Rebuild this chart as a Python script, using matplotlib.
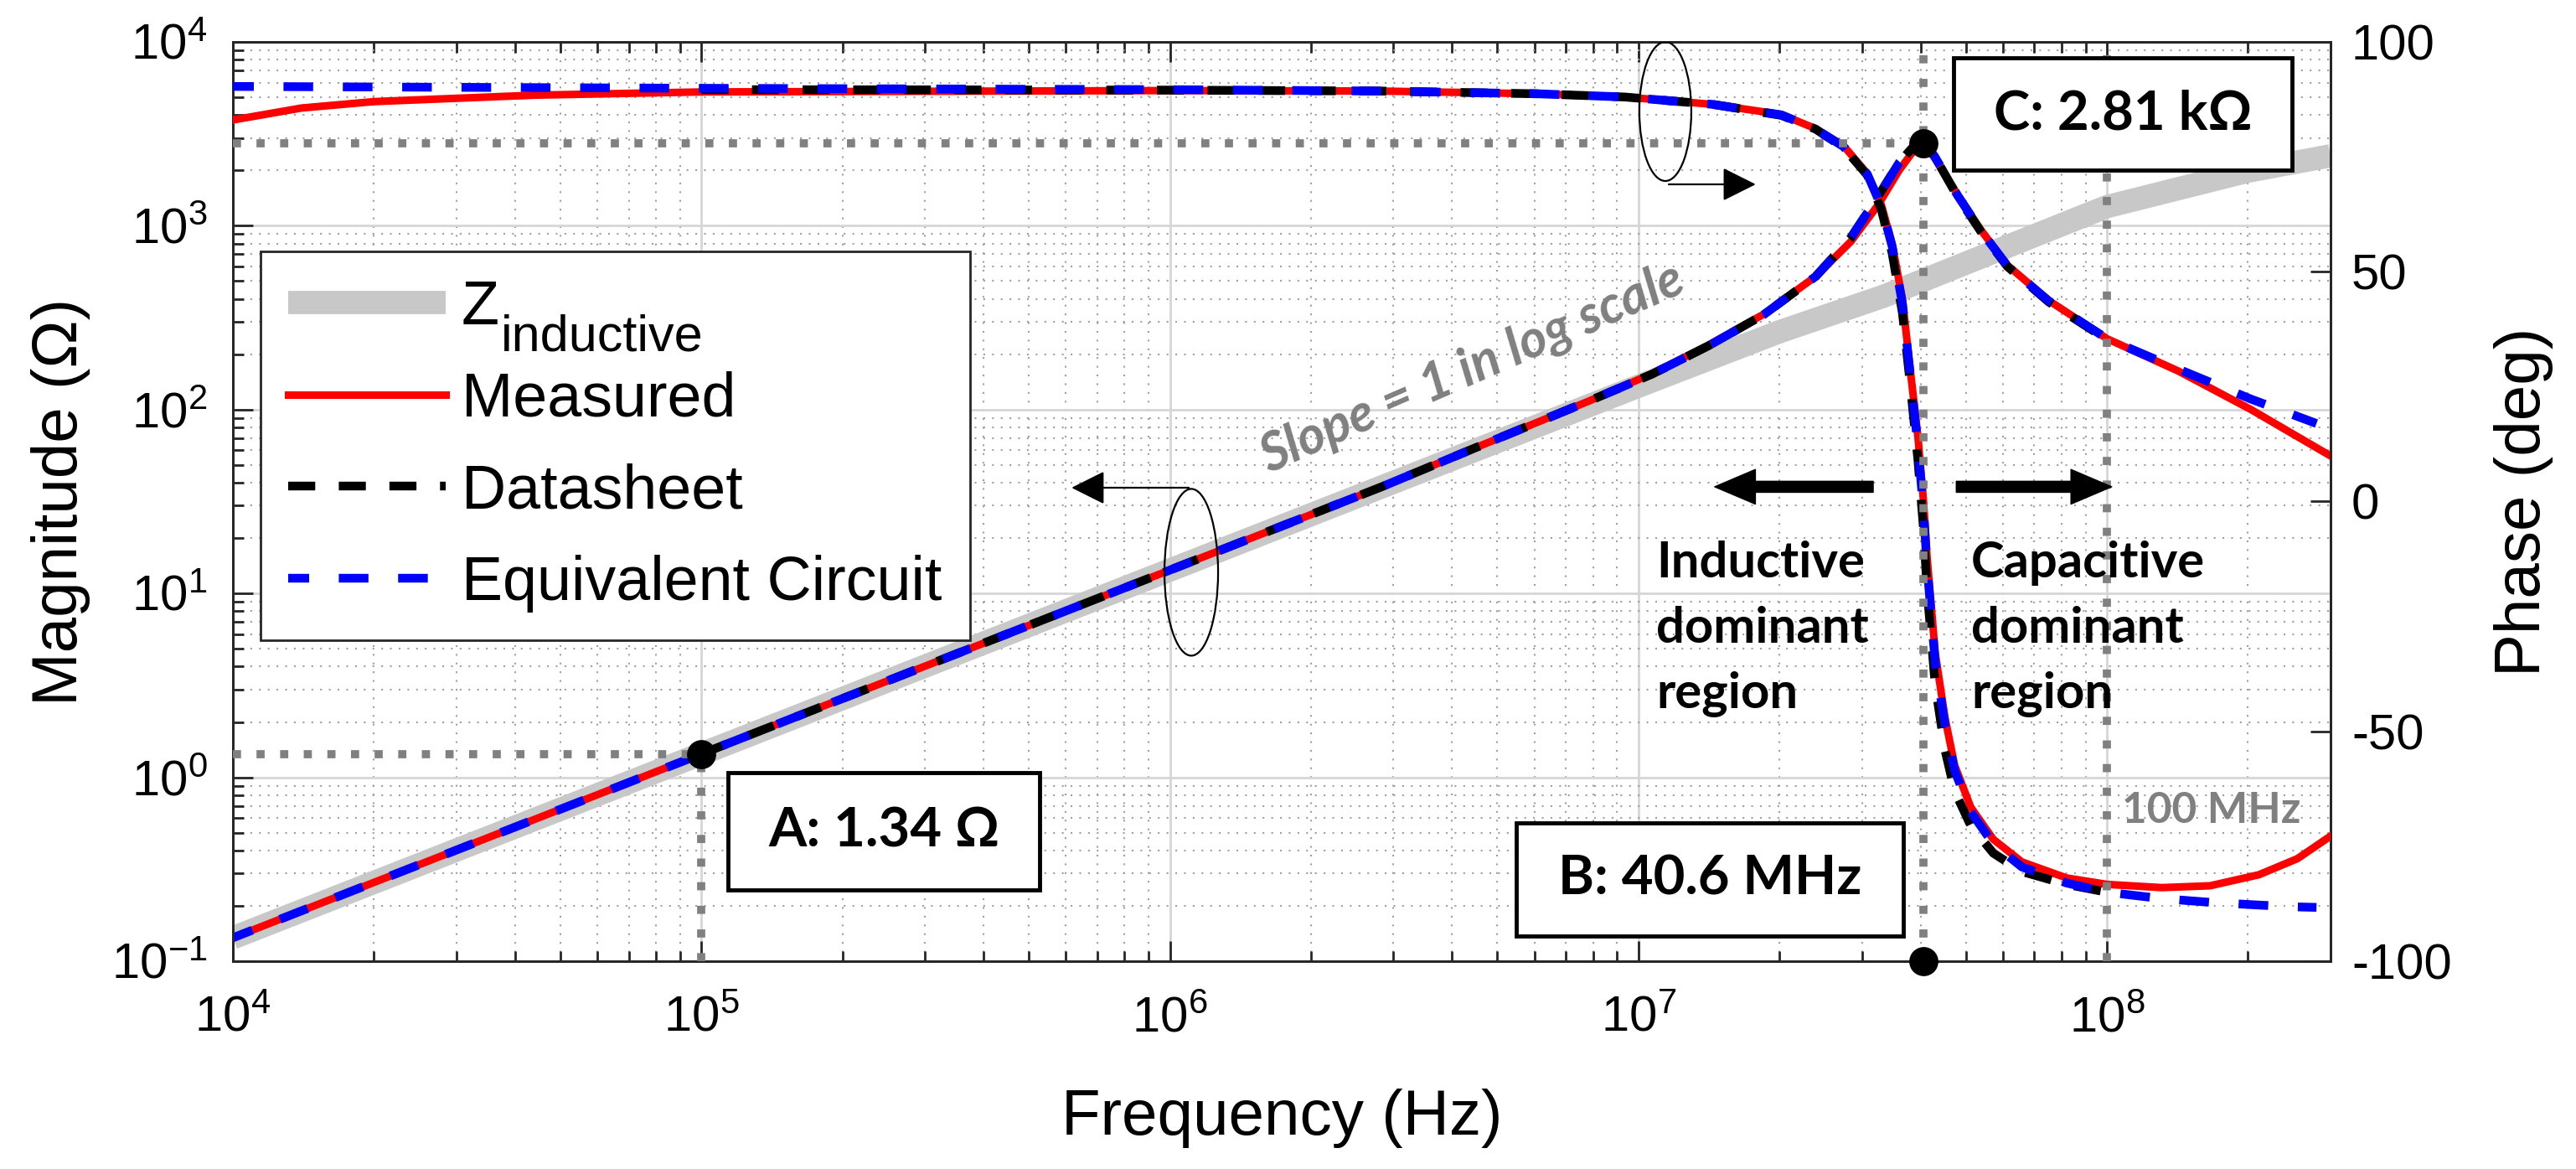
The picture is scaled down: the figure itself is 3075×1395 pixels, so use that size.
import numpy as np
import matplotlib
matplotlib.use('Agg')
import matplotlib.pyplot as plt
from matplotlib.patches import Ellipse, FancyArrowPatch, Rectangle
from matplotlib.ticker import LogLocator, NullFormatter, FixedLocator

plt.rcParams['font.family'] = ['Liberation Sans', 'DejaVu Sans']
plt.rcParams['mathtext.fontset'] = 'custom'
plt.rcParams['mathtext.rm'] = 'Liberation Sans'
plt.rcParams['mathtext.it'] = 'Liberation Sans'
plt.rcParams['axes.unicode_minus'] = False

# ---- data ----
# Z_inductive (grey)
f_zl = [1e4, 1e5, 1e6, 1e7, 2e7, 3.35e7, 6.2e7, 1e8, 2e8, 3e8]
z_zl = [0.134, 1.34, 13.4, 134, 265, 415, 780, 1270, 1980, 2400]

# measured magnitude (red)
f_meas = [1e4, 1e5, 1e6, 2.83e6, 4.49e6, 7.89e6, 1.07e7, 1.41e7, 1.85e7, 2.39e7,
          2.84e7, 3.25e7, 3.6e7, 3.84e7, 4.06e7, 4.28e7, 4.8e7, 5.38e7, 6.13e7,
          7.51e7, 1e8, 1.42e8, 2.03e8, 3e8]
z_meas = [0.134, 1.34, 13.4, 38, 62, 112, 157, 224, 330, 530,
          820, 1300, 2000, 2500, 2810, 2350, 1475, 949, 610,
          392, 243, 162, 100, 56]

# datasheet magnitude (black)
f_ds = [1e5, 1e6, 2.83e6, 4.49e6, 7.89e6, 1.07e7, 1.41e7, 1.85e7, 2.39e7,
        2.84e7, 3.25e7, 3.6e7, 3.84e7, 4.06e7, 4.28e7, 4.8e7, 5.38e7, 6.13e7,
        7.51e7, 1e8]
z_ds = [1.34, 13.4, 38, 62, 112, 156, 222, 328, 530,
        860, 1450, 2200, 2650, 2810, 2400, 1440, 930, 600,
        385, 240]

# equivalent circuit magnitude (blue)
f_eq = [1e4, 1e5, 1e6, 2.83e6, 4.49e6, 7.89e6, 1.07e7, 1.41e7, 1.85e7, 2.39e7,
        2.84e7, 3.25e7, 3.6e7, 3.84e7, 4.06e7, 4.28e7, 4.8e7, 5.38e7, 6.13e7,
        7.51e7, 1e8, 1.42e8, 2.03e8, 2.8e8]
z_eq = [0.134, 1.34, 13.4, 38, 62, 112, 156, 222, 328, 530,
        860, 1450, 2200, 2650, 2810, 2400, 1460, 940, 605,
        390, 243, 166, 114, 84]

# phase, measured (red)
fp_meas = [1e4, 1.4e4, 2e4, 4.4e4, 1e5, 1e6, 2.8e6, 6.1e6, 9.35e6, 1.44e7, 2.02e7,
           2.39e7, 2.74e7, 3.08e7, 3.3e7, 3.48e7, 3.66e7, 3.79e7, 3.95e7, 4.06e7,
           4.13e7, 4.3e7, 4.51e7, 4.73e7, 5.12e7, 5.72e7, 6.58e7, 8.2e7, 1e8,
           1.31e8, 1.66e8, 2.11e8, 2.55e8, 3e8]
ph_meas = [83.0, 85.6, 87.0, 88.4, 89.1, 89.4, 89.3, 88.7, 88.0, 86.4, 84.2,
           81.1, 77.4, 71.3, 64.5, 56.0, 44.0, 30.0, 14.0, 0.0,
           -12.0, -33.0, -47.0, -57.4, -66.5, -73.5, -78.4, -81.9, -83.3,
           -84.0, -83.6, -81.2, -77.7, -72.8]

# phase, datasheet (black)
fp_ds = [1e5, 1e6, 2.8e6, 6.1e6, 9.35e6, 1.44e7, 2.02e7, 2.39e7, 2.74e7,
         3.08e7, 3.3e7, 3.48e7, 3.66e7, 3.79e7, 3.95e7, 4.06e7, 4.13e7, 4.3e7,
         4.51e7, 4.73e7, 5.12e7, 5.72e7, 6.58e7, 8.2e7, 1e8]
ph_ds = [89.6, 89.5, 89.3, 88.7, 88.0, 86.4, 84.0, 81.0, 77.0,
         71.0, 63.5, 54.0, 41.0, 27.0, 9.0, -6.0, -19.0, -40.0,
         -54.0, -63.0, -70.5, -76.5, -80.5, -83.3, -85.0]

# phase, equivalent circuit (blue)
fp_eq = [1e4, 1e5, 1e6, 2.8e6, 6.1e6, 9.35e6, 1.44e7, 2.02e7, 2.39e7, 2.74e7,
         3.08e7, 3.3e7, 3.48e7, 3.66e7, 3.79e7, 3.95e7, 4.06e7, 4.13e7, 4.3e7,
         4.51e7, 4.73e7, 5.12e7, 5.72e7, 6.58e7, 8.2e7, 1e8, 1.31e8, 1.66e8,
         2.11e8, 2.55e8, 2.8e8]
ph_eq = [90.3, 89.9, 89.6, 89.3, 88.7, 88.0, 86.4, 84.1, 81.0, 77.2,
         71.2, 64.2, 55.5, 43.0, 29.0, 12.0, -2.0, -14.0, -35.0,
         -48.5, -58.5, -67.5, -74.5, -79.5, -83.0, -85.0, -86.4, -87.2,
         -87.8, -88.2, -88.3]

# marked points
f_A, z_A = 1e5, 1.34
f_B = 40.6e6
z_C = 2810
f_100 = 1e8

x_ticks = [1e4, 1e5, 1e6, 1e7, 1e8]
x_labels = ['$10^{4}$', '$10^{5}$', '$10^{6}$', '$10^{7}$', '$10^{8}$']
y_ticks = [1e-1, 1e0, 1e1, 1e2, 1e3, 1e4]
y_labels = ['$10^{-1}$', '$10^{0}$', '$10^{1}$', '$10^{2}$', '$10^{3}$', '$10^{4}$']
ph_ticks = [-100, -50, 0, 50, 100]

# ---- figure ----
fig = plt.figure(figsize=(30.75, 13.95), dpi=100)
ax = fig.add_axes([0.0904, 0.1778, 0.8143, 0.7864])
ax.set_xscale('log')
ax.set_yscale('log')
ax.set_xlim(1e4, 3e8)
ax.set_ylim(0.1, 1e4)

ax.xaxis.set_major_locator(FixedLocator(x_ticks))
ax.set_xticklabels(x_labels)
ax.xaxis.set_minor_locator(LogLocator(base=10, subs=np.arange(2, 10), numticks=30))
ax.xaxis.set_minor_formatter(NullFormatter())
ax.yaxis.set_major_locator(FixedLocator(y_ticks))
ax.set_yticklabels(y_labels)
ax.yaxis.set_minor_locator(LogLocator(base=10, subs=np.arange(2, 10), numticks=30))
ax.yaxis.set_minor_formatter(NullFormatter())

ax.grid(True, which='major', color='#d6d6d6', lw=2.0, ls='-', zorder=0)
ax.grid(True, which='minor', color='#a0a0a0', lw=1.5, ls=(0, (1, 4)), zorder=0)
ax.set_axisbelow(True)

dark = '#262626'
ax.tick_params(which='both', direction='in', top=True, right=False, colors=dark,
               width=2, labelcolor='black')
ax.tick_params(which='major', length=17, labelsize=43)
ax.tick_params(axis='x', which='major', pad=30)
ax.tick_params(axis='y', which='major', pad=22)
ax.tick_params(which='minor', length=9)
for s in ax.spines.values():
    s.set_color(dark)
    s.set_linewidth(2)

ax.plot(f_zl, z_zl, color='#c8c8c8', lw=20, solid_capstyle='butt', zorder=2, label='Z')
ax.plot(f_meas, z_meas, color='#ff0000', lw=6.5, zorder=3, label='Measured')
ax.plot(f_ds, z_ds, color='black', lw=7.5, ls=(0, (3.1, 2.7)), zorder=4, label='Datasheet')
ax.plot(f_eq, z_eq, color='#0000ff', lw=7.5, ls=(1.0, (3.4, 3.4)), zorder=5,
        label='Equivalent Circuit')

ax.set_xlabel('Frequency (Hz)', fontsize=55)
ax.xaxis.set_label_coords(0.5, -0.139)
ax.set_ylabel('Magnitude (\u03a9)', fontsize=55)
ax.yaxis.set_label_coords(-0.068, 0.5)

# ---- phase axis ----
ax2 = ax.twinx()
ax2.set_ylim(-100, 100)
ax2.set_yticks(ph_ticks)
ax2.set_yticklabels([str(v) for v in ph_ticks])
ax2.tick_params(axis='y', direction='in', length=17, width=2, colors=dark,
                labelcolor='black', labelsize=43, pad=18)
ax2.set_ylabel('Phase (deg)', fontsize=55)
ax2.yaxis.set_label_coords(1.078, 0.5)
for s in ax2.spines.values():
    s.set_color(dark)
    s.set_linewidth(2)

ax2.plot(fp_meas, ph_meas, color='#ff0000', lw=6.5, zorder=3)
ax2.plot(fp_ds, ph_ds, color='black', lw=7.5, ls=(0, (3.1, 2.7)), zorder=4)
ax2.plot(fp_eq, ph_eq, color='#0000ff', lw=7.5, ls=(1.0, (3.4, 3.4)), zorder=5)

# dotted reference lines (drawn in magnitude coordinates, on top)
ref = dict(color='#808080', lw=7, ls=(0, (1.0, 1.9)), zorder=6, solid_capstyle='butt',
           transform=ax.transData, clip_on=True)
ax2.plot([1e4, f_A], [z_A, z_A], **ref)
ax2.plot([f_A, f_A], [0.1, z_A], **ref)
ax2.plot([1e4, f_B], [z_C, z_C], **ref)
ax2.plot([f_B, f_B], [0.1, 1e4], **ref)
ax2.plot([f_100, f_100], [0.1, 1e4], **ref)

# markers
mk = dict(marker='o', color='black', ms=24, ls='none', zorder=7, transform=ax.transData)
ax2.plot([f_A], [z_A], **mk)
ax2.plot([f_B], [z_C], **mk)
ax2.plot([f_B], [0.1], clip_on=False, **mk)

# labelled boxes
box_font = ['Lato', 'DejaVu Sans']
def label_box(x0, y0, x1, y1, txt):
    ax2.add_patch(Rectangle((x0, y0), x1 - x0, y1 - y0, transform=ax2.transAxes,
                            facecolor='white', edgecolor='black', lw=3.5, zorder=9))
    ax2.text((x0 + x1) / 2, (y0 + y1) / 2, txt, transform=ax2.transAxes,
             ha='center', va='center', fontsize=47, fontweight='bold',
             family=box_font, zorder=10)

label_box(0.2360, 0.0775, 0.3846, 0.2051, 'A: 1.34 \u03a9')
label_box(0.6118, 0.0273, 0.7963, 0.1504, 'B: 40.6 MHz')
label_box(0.8203, 0.8605, 0.9816, 0.9827, 'C: 2.81 k\u03a9')

# region text
ax2.text(0.6785, 0.4576, 'Inductive\ndominant\nregion', transform=ax2.transAxes,
         ha='left', va='top', fontsize=43, fontweight='bold', family=box_font,
         linespacing=1.55, zorder=8)
ax2.text(0.8287, 0.4576, 'Capacitive\ndominant\nregion', transform=ax2.transAxes,
         ha='left', va='top', fontsize=43, fontweight='bold', family=box_font,
         linespacing=1.55, zorder=8)
ax2.text(0.9006, 0.164, '100 MHz', transform=ax2.transAxes, ha='left', va='center',
         fontsize=37, fontweight='bold', color='#808080', family=box_font, zorder=8)
ax2.text(0.591, 0.6445, 'Slope = 1 in log scale', transform=ax2.transAxes,
         ha='center', va='center', rotation=23.5, fontsize=45, fontweight='bold',
         style='italic', color='#808080', family=box_font, zorder=8)

# big region arrows
big = dict(arrowstyle='simple,head_length=1.0,head_width=0.85,tail_width=0.27',
           mutation_scale=35, color='black', transform=ax2.transAxes, zorder=8)
ax2.add_patch(FancyArrowPatch((0.7831, 0.516), (0.7053, 0.516), **big))
ax2.add_patch(FancyArrowPatch((0.8205, 0.516), (0.8968, 0.516), **big))

# ellipses with pointer arrows
ax2.add_patch(Ellipse((0.6829, 0.9243), 0.02476, 0.1513, transform=ax2.transAxes,
                      fill=False, edgecolor='black', lw=1.6, zorder=8))
ax2.add_patch(Ellipse((0.4569, 0.423), 0.02556, 0.1814, transform=ax2.transAxes,
                      fill=False, edgecolor='black', lw=1.6, zorder=8))
small = dict(arrowstyle='-|>,head_length=1.0,head_width=0.5', mutation_scale=25,
             color='black', lw=1.6, transform=ax2.transAxes, zorder=8,
             shrinkA=0, shrinkB=0)
ax2.add_patch(FancyArrowPatch((0.6845, 0.845), (0.7260, 0.845), **small))
ax2.add_patch(FancyArrowPatch((0.4557, 0.515), (0.3998, 0.515), **small))

# legend
leg = ax2.legend(handles=ax.get_lines(), loc='upper left', bbox_to_anchor=(0.0132, 0.7721),
                 borderaxespad=0, fontsize=53, handlelength=2.55, handletextpad=0.26,
                 labelspacing=0.55, borderpad=0.45, fancybox=False, framealpha=1,
                 edgecolor=dark)
leg.get_frame().set_linewidth(2)
leg.set_zorder(20)
# large subscript of Z_inductive, hung off the "Z" legend text
ax2.annotate('inductive', xy=(1, 0), xycoords=leg.get_texts()[0],
             xytext=(1, -12), textcoords='offset points', ha='left', va='baseline',
             fontsize=44, zorder=21, annotation_clip=False)

fig.savefig('out.png', dpi=100)
